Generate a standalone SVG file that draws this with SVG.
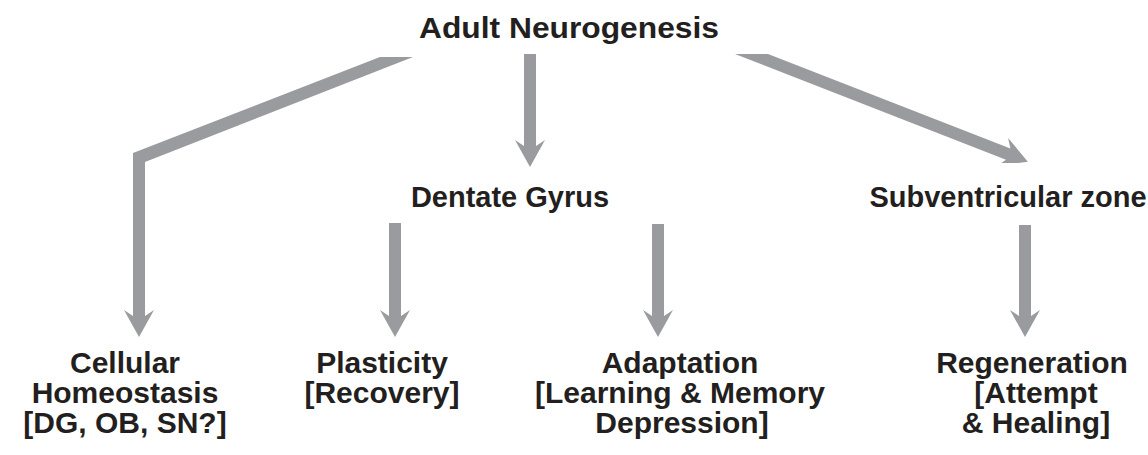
<svg xmlns="http://www.w3.org/2000/svg" width="1148" height="455" viewBox="0 0 1148 455">
<style>
  .lbl { font-family: "Liberation Sans", Arial, sans-serif; font-weight: bold; font-size: 30px; fill: #231f20; text-anchor: middle; }
  .mid { font-size: 29px; }
  .arr { fill: #9a9b9f; stroke: none; }
</style>
<rect width="1148" height="455" fill="#ffffff"/>
<g id="connectors">
  <path class="arr" d="M380,57 L413,57 L145,162 L145,316 L154,310 L139,337 L124,310 L133,316 L133,153 Z"/>
  <path class="arr" d="M524,54 L536,54 L536,146 L545,140 L530,167 L515,140 L524,146 Z"/>
  <path class="arr" d="M735,54 L768,54 L1010.4,148.5 L1008.1,137.9 L1027.8,161.7 L1018.3,163 L1001.3,163 L1006,159.7 Z"/>
  <path class="arr" d="M389,223 L401,223 L401,316 L410,310 L395,337 L380,310 L389,316 Z"/>
  <path class="arr" d="M652,224 L664,224 L664,316 L673,310 L658,337 L643,310 L652,316 Z"/>
  <path class="arr" d="M1019,225 L1031,225 L1031,316 L1040,310 L1025,337 L1010,310 L1019,316 Z"/>
</g>
<g id="adult-neurogenesis"><text class="lbl" x="569" y="38" textLength="300" lengthAdjust="spacingAndGlyphs">Adult Neurogenesis</text></g>
<g id="dentate-gyrus"><text class="lbl mid" x="510" y="207">Dentate Gyrus</text></g>
<g id="subventricular-zone"><text class="lbl mid" x="1008" y="207">Subventricular zone</text></g>
<g id="cellular-homeostasis">
  <text class="lbl" x="125" y="373">Cellular</text>
  <text class="lbl" x="125" y="403">Homeostasis</text>
  <text class="lbl" x="125" y="433">[DG, OB, SN?]</text>
</g>
<g id="plasticity">
  <text class="lbl" x="382" y="373">Plasticity</text>
  <text class="lbl" x="382" y="403">[Recovery]</text>
</g>
<g id="adaptation">
  <text class="lbl" x="680" y="373">Adaptation</text>
  <text class="lbl" x="680" y="403">[Learning &amp; Memory</text>
  <text class="lbl" x="682" y="433">Depression]</text>
</g>
<g id="regeneration">
  <text class="lbl" x="1032" y="373">Regeneration</text>
  <text class="lbl" x="1036" y="403">[Attempt</text>
  <text class="lbl" x="1036" y="433">&amp; Healing]</text>
</g>
</svg>
